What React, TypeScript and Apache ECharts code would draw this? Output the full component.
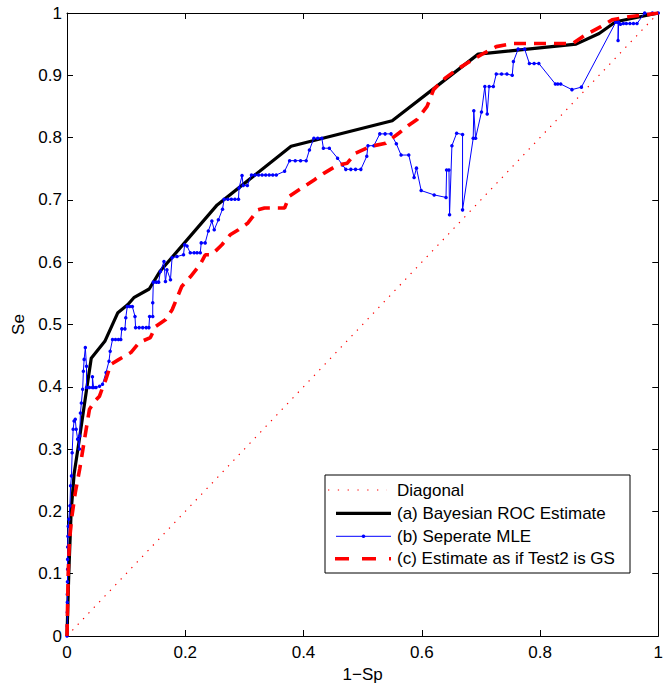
import React, { useEffect, useRef } from "react";
import * as echarts from "echarts";

// ---- data ----
const xTicks = [0, 0.2, 0.4, 0.6, 0.8, 1];
const yTicks = [0, 0.1, 0.2, 0.3, 0.4, 0.5, 0.6, 0.7, 0.8, 0.9, 1];

const legendNames = [
  "Diagonal",
  "(a) Bayesian ROC Estimate",
  "(b) Seperate MLE",
  "(c) Estimate as if Test2 is GS",
];

const diagX = [0, 1];
const diagY = [0, 1];

const bayesX = [0, 0.003, 0.007, 0.012, 0.02, 0.033, 0.041, 0.064, 0.086, 0.103, 0.113, 0.139, 0.157, 0.254, 0.379, 0.55, 0.6955, 0.861, 0.9, 0.928, 1.0];
const bayesY = [0, 0.1, 0.2, 0.26, 0.31, 0.395, 0.446, 0.473, 0.519, 0.532, 0.543, 0.557, 0.585, 0.692, 0.786, 0.827, 0.934, 0.95, 0.967, 0.986, 1.0];

const sepX = [
  0, 0.0005, 0.0005, 0.0005, 0.0005, 0.0008, 0.001, 0.001, 0.0012, 0.0015, 0.002, 0.003, 0.005, 0.006, 0.0076,
  0.0087, 0.0104, 0.012, 0.014, 0.0155, 0.018, 0.021, 0.0215, 0.0227, 0.0243, 0.0265, 0.0277, 0.029, 0.031, 0.033,
  0.033, 0.038, 0.043, 0.043, 0.045, 0.049, 0.055, 0.06, 0.066, 0.071, 0.073, 0.077, 0.082, 0.087, 0.091, 0.0927,
  0.098, 0.0994, 0.102, 0.106, 0.1105, 0.115, 0.116, 0.122, 0.128, 0.134, 0.1385, 0.1397, 0.145, 0.145, 0.146,
  0.151, 0.155, 0.158, 0.164, 0.1665, 0.169, 0.175, 0.1777, 0.186, 0.197, 0.199, 0.203, 0.2085, 0.215, 0.22,
  0.2254, 0.227, 0.2337, 0.239, 0.245, 0.249, 0.256, 0.263, 0.2657, 0.272, 0.278, 0.284, 0.29, 0.291, 0.296,
  0.298, 0.305, 0.312, 0.318, 0.324, 0.33, 0.336, 0.342, 0.348, 0.354, 0.368, 0.3765, 0.386, 0.395, 0.4045,
  0.41, 0.4175, 0.424, 0.431, 0.4336, 0.4437, 0.4576, 0.466, 0.4715, 0.48, 0.488, 0.497, 0.507, 0.509, 0.519,
  0.529, 0.538, 0.548, 0.557, 0.565, 0.578, 0.587, 0.591, 0.599, 0.621, 0.641, 0.642, 0.646, 0.647, 0.651,
  0.659, 0.669, 0.669, 0.687, 0.688, 0.691, 0.701, 0.7067, 0.7107, 0.714, 0.721, 0.726, 0.735, 0.744, 0.753,
  0.755, 0.763, 0.774, 0.782, 0.79, 0.798, 0.826, 0.83, 0.835, 0.854, 0.87, 0.928, 0.932, 0.932, 0.933, 0.936,
  0.941, 0.946, 0.952, 0.958, 0.964, 0.977, 0.99, 1,
];
const sepY = [
  0, 0.016, 0.038, 0.054, 0.067, 0.087, 0.107, 0.123, 0.143, 0.16, 0.176, 0.1875, 0.209, 0.241, 0.257,
  0.294, 0.332, 0.345, 0.348, 0.332, 0.316, 0.3, 0.321, 0.358, 0.374, 0.396, 0.425, 0.444, 0.463, 0.433,
  0.399, 0.399, 0.399, 0.416, 0.399, 0.399, 0.401, 0.404, 0.423, 0.441, 0.457, 0.476, 0.476, 0.476, 0.476, 0.493,
  0.493, 0.511, 0.529, 0.529, 0.529, 0.513, 0.495, 0.495, 0.495, 0.495, 0.495, 0.513, 0.513, 0.535, 0.568,
  0.568, 0.568, 0.585, 0.601, 0.569, 0.588, 0.572, 0.607, 0.609, 0.612, 0.628, 0.626, 0.615, 0.615, 0.615,
  0.615, 0.631, 0.631, 0.65, 0.666, 0.652, 0.668, 0.685, 0.701, 0.701, 0.701, 0.701, 0.701, 0.719, 0.739,
  0.723, 0.723, 0.74, 0.74, 0.74, 0.74, 0.74, 0.74, 0.74, 0.74, 0.746, 0.763, 0.763, 0.763, 0.763,
  0.78, 0.799, 0.799, 0.799, 0.783, 0.783, 0.767, 0.756, 0.749, 0.749, 0.749, 0.749, 0.77, 0.787, 0.787,
  0.806, 0.806, 0.806, 0.79, 0.772, 0.772, 0.736, 0.751, 0.715, 0.708, 0.704, 0.748, 0.748, 0.676, 0.787,
  0.807, 0.805, 0.684, 0.799, 0.843, 0.799, 0.841, 0.882, 0.838, 0.882, 0.882, 0.902, 0.902, 0.902, 0.9,
  0.922, 0.942, 0.942, 0.919, 0.919, 0.919, 0.886, 0.886, 0.886, 0.877, 0.881, 0.985, 0.985, 0.956, 0.985, 0.982,
  0.983, 0.983, 0.983, 0.983, 0.983, 1.0, 1.0, 1,
];

const gsX = [
  0, 0.001, 0.002, 0.004, 0.0076, 0.014, 0.0215, 0.03, 0.038, 0.047, 0.055, 0.061, 0.065, 0.074, 0.088, 0.108,
  0.122, 0.141, 0.15, 0.167, 0.178, 0.194, 0.209, 0.225, 0.234, 0.245, 0.262, 0.276, 0.29, 0.306, 0.323, 0.334,
  0.368, 0.376, 0.402, 0.418, 0.435, 0.449, 0.4576, 0.474, 0.488, 0.514, 0.539, 0.561, 0.578, 0.592, 0.609,
  0.62, 0.639, 0.659, 0.681, 0.704, 0.726, 0.754, 0.855, 0.877, 0.903, 0.922, 0.95, 0.978, 1,
];
const gsY = [
  0, 0.05, 0.1, 0.15, 0.1875, 0.23, 0.268, 0.318, 0.364, 0.377, 0.385, 0.401, 0.41, 0.436, 0.444, 0.455,
  0.471, 0.479, 0.497, 0.508, 0.524, 0.561, 0.577, 0.596, 0.612, 0.612, 0.628, 0.644, 0.652, 0.663, 0.684, 0.687,
  0.687, 0.706, 0.722, 0.732, 0.743, 0.751, 0.756, 0.759, 0.775, 0.786, 0.791, 0.807, 0.82, 0.829, 0.85,
  0.877, 0.895, 0.909, 0.922, 0.935, 0.946, 0.951, 0.951, 0.965, 0.978, 0.989, 0.994, 0.997, 1,
];

const pairs = (xs: number[], ys: number[]) => xs.map((x, i) => [x, ys[i]]);

const FONT = "'Liberation Sans', Arial, Helvetica, sans-serif";

export default function App() {
  const ref = useRef<HTMLDivElement>(null);

  useEffect(() => {
    if (!ref.current) return;
    const chart = echarts.init(ref.current, null, { renderer: "svg" });

    const axisCommon = {
      type: "value" as const,
      min: 0,
      max: 1,
      axisLine: { show: true, onZero: false, lineStyle: { color: "#000", width: 1 } },
      axisTick: { show: true, inside: true, length: 6, lineStyle: { color: "#000", width: 1 } },
      splitLine: { show: false },
    };

    const lx = 336;
    const lx2 = 391;
    const rows = [490, 513.3, 536.3, 558.8];

    chart.setOption({
      animation: false,
      backgroundColor: "#fff",
      grid: { left: 67, right: 3, top: 13, bottom: 51, containLabel: false },
      xAxis: [
        {
          ...axisCommon,
          position: "bottom",
          interval: xTicks[1] - xTicks[0],
          name: "1\u2212Sp",
          nameLocation: "middle",
          nameGap: 30,
          nameTextStyle: { color: "#000", fontSize: 17, fontFamily: FONT },
          axisLabel: { show: true, color: "#000", fontSize: 17, fontFamily: FONT, margin: 8 },
        },
        {
          ...axisCommon,
          position: "top",
          interval: xTicks[1] - xTicks[0],
          axisLabel: { show: false },
        },
      ],
      yAxis: [
        {
          ...axisCommon,
          position: "left",
          interval: yTicks[1] - yTicks[0],
          name: "Se",
          nameLocation: "middle",
          nameGap: 38,
          nameTextStyle: { color: "#000", fontSize: 17, fontFamily: FONT },
          axisLabel: { show: true, color: "#000", fontSize: 17, fontFamily: FONT, margin: 5 },
        },
        {
          ...axisCommon,
          position: "right",
          interval: yTicks[1] - yTicks[0],
          axisLabel: { show: false },
        },
      ],
      series: [
        {
          name: legendNames[0],
          type: "line",
          data: pairs(diagX, diagY),
          symbol: "none",
          lineStyle: { color: "#ff0000", width: 1.2, type: [1.3, 6.5] },
          z: 1,
        },
        {
          name: legendNames[1],
          type: "line",
          data: pairs(bayesX, bayesY),
          symbol: "none",
          lineStyle: { color: "#000", width: 3.2, join: "round" },
          z: 2,
        },
        {
          name: legendNames[2],
          type: "line",
          data: pairs(sepX, sepY),
          symbol: "circle",
          symbolSize: 3.5,
          showAllSymbol: true,
          itemStyle: { color: "#0000ff" },
          lineStyle: { color: "#0000ff", width: 1 },
          z: 3,
        },
        {
          name: legendNames[3],
          type: "line",
          data: pairs(gsX, gsY),
          symbol: "none",
          lineStyle: { color: "#ff0000", width: 3.6, type: [12, 8] },
          z: 4,
        },
      ],
      graphic: [
        {
          type: "rect",
          shape: { x: 325, y: 475, width: 305, height: 98 },
          style: { fill: "#fff", stroke: "#000", lineWidth: 1 },
          z: 100,
        },
        {
          type: "line",
          shape: { x1: lx - 8, y1: rows[0], x2: lx2 - 4, y2: rows[0] },
          style: { stroke: "#ff0000", lineWidth: 1.2, lineDash: [1.3, 8.5] },
          z: 101,
        },
        {
          type: "line",
          shape: { x1: lx, y1: rows[1], x2: lx2, y2: rows[1] },
          style: { stroke: "#000", lineWidth: 3.2 },
          z: 101,
        },
        {
          type: "line",
          shape: { x1: lx, y1: rows[2], x2: lx2, y2: rows[2] },
          style: { stroke: "#0000ff", lineWidth: 1 },
          z: 101,
        },
        {
          type: "circle",
          shape: { cx: (lx + lx2) / 2, cy: rows[2], r: 1.8 },
          style: { fill: "#0000ff" },
          z: 102,
        },
        {
          type: "line",
          shape: { x1: lx - 1, y1: rows[3], x2: lx2, y2: rows[3] },
          style: { stroke: "#ff0000", lineWidth: 3.6, lineDash: [14, 13] },
          z: 101,
        },
        ...legendNames.map((name, i) => ({
          type: "text",
          x: 397,
          y: rows[i],
          style: {
            text: name,
            fill: "#000",
            fontSize: 17,
            fontFamily: FONT,
            verticalAlign: "middle",
            align: "left",
          },
          z: 102,
        })),
      ],
    });

    return () => chart.dispose();
  }, []);

  return (
    <div
      ref={ref}
      style={{ position: "fixed", left: 0, top: 0, width: 666, height: 688, background: "#fff" }}
    />
  );
}
